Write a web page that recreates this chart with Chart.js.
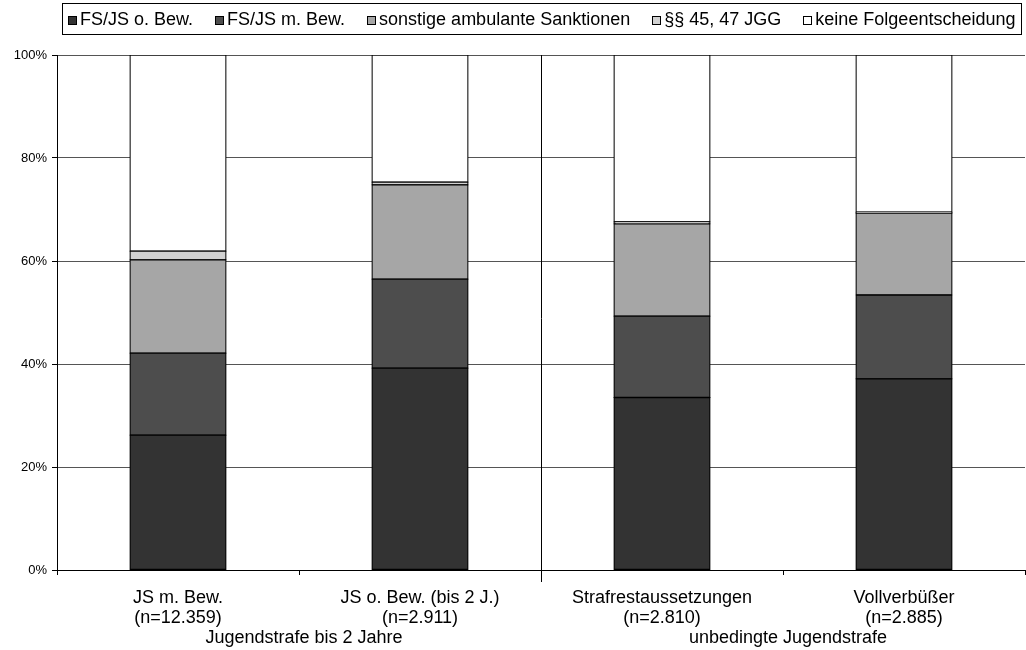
<!DOCTYPE html>
<html>
<head>
<meta charset="utf-8">
<script src="https://cdn.jsdelivr.net/npm/chart.js@4.4.1/dist/chart.umd.min.js"></script>
<style>
  html, body { margin: 0; padding: 0; background: #fff; }
  #wrap { width: 1026px; height: 650px; }
</style>
</head>
<body>
<div id="wrap"><canvas id="c" width="1026" height="650"></canvas></div>
<script>
// Categories (two-line axis labels) and their groups
const categories = [
  ['JS m. Bew.', '(n=12.359)'],
  ['JS o. Bew. (bis 2 J.)', '(n=2.911)'],
  ['Strafrestaussetzungen', '(n=2.810)'],
  ['Vollverbüßer', '(n=2.885)']
];
const groups = ['Jugendstrafe bis 2 Jahre', 'unbedingte Jugendstrafe'];

// Shares in percent per follow-up decision
const fsJsOhneBew   = [26.2, 39.2, 33.5, 37.1];
const fsJsMitBew    = [15.9, 17.3, 15.8, 16.3];
const sonstigeAmb   = [18.1, 18.3, 17.9, 15.9];
const jgg4547       = [1.7, 0.5, 0.4, 0.2];
const keineFolge    = [38.1, 24.7, 32.4, 30.5];

const yTicks = [0, 20, 40, 60, 80, 100];

const FONT = 'Liberation Sans, Arial, sans-serif';

const seriesNames  = ['FS/JS o. Bew.', 'FS/JS m. Bew.', 'sonstige ambulante Sanktionen', '§§ 45, 47 JGG', 'keine Folgeentscheidung'];
const seriesValues = [fsJsOhneBew, fsJsMitBew, sonstigeAmb, jgg4547, keineFolge];
const seriesColors = ['#333333', '#4d4d4d', '#a6a6a6', '#d2d2d2', '#ffffff'];

const datasets = seriesNames.map((name, i) => ({
  label: name,
  data: seriesValues[i],
  backgroundColor: seriesColors[i],
  borderColor: '#000000',
  borderWidth: 1.25,
  borderSkipped: false,
  inflateAmount: 0.6,
  barThickness: 96
}));

// Boxed legend row across the top
const boxedLegend = {
  id: 'boxedLegend',
  afterDraw(chart) {
    const ctx = chart.ctx;
    const fontSize = 18;
    const sq = 9, gapText = 3, gapItem = 22;
    ctx.save();
    ctx.font = fontSize + 'px ' + FONT;
    const widths = chart.data.datasets.map(d => ctx.measureText(d.label).width);
    let total = 0;
    widths.forEach((w, i) => { total += sq + gapText + w + (i < widths.length - 1 ? gapItem : 0); });
    const right = 1021, top = 3, bottom = 34;
    const padX = 6;
    const left = Math.round(right - padX * 2 - total);
    ctx.fillStyle = '#fff';
    ctx.fillRect(left, top, right - left, bottom - top);
    ctx.strokeStyle = '#000';
    ctx.lineWidth = 1;
    ctx.strokeRect(left + 0.5, top + 0.5, right - left, bottom - top);
    const cy = Math.round((top + bottom) / 2) + 1;
    let x = left + padX;
    chart.data.datasets.forEach((d, i) => {
      const bx = Math.round(x) + 0.5, by = Math.round(cy - sq / 2) + 0.5;
      ctx.fillStyle = d.backgroundColor;
      ctx.fillRect(bx, by, sq - 1, sq - 1);
      ctx.strokeStyle = '#000';
      ctx.strokeRect(bx, by, sq - 1, sq - 1);
      x += sq + gapText;
      ctx.fillStyle = '#000';
      ctx.textBaseline = 'middle';
      ctx.textAlign = 'left';
      ctx.fillText(d.label, x, cy);
      x += widths[i] + gapItem;
    });
    ctx.restore();
  }
};

// Vertical divider between the two category groups, reaching below the axis
const groupDivider = {
  id: 'groupDivider',
  afterDatasetsDraw(chart) {
    const xs = chart.scales.x;
    const area = chart.chartArea;
    const px = Math.round((xs.getPixelForValue(1) + xs.getPixelForValue(2)) / 2) + 0.5;
    const ctx = chart.ctx;
    ctx.save();
    ctx.strokeStyle = '#000';
    ctx.lineWidth = 1;
    ctx.beginPath();
    ctx.moveTo(px, area.top);
    ctx.lineTo(px, area.bottom + 12);
    ctx.stroke();
    ctx.restore();
  }
};

new Chart(document.getElementById('c'), {
  type: 'bar',
  data: { labels: categories, datasets },
  options: {
    responsive: false,
    animation: false,
    devicePixelRatio: 1,
    layout: { padding: { top: 55, right: 1, bottom: 2, left: 0 } },
    plugins: {
      legend: { display: false },
      tooltip: { enabled: false }
    },
    scales: {
      x: {
        stacked: true,
        offset: true,
        grid: {
          offset: true,
          drawOnChartArea: false,
          tickLength: 5,
          tickColor: '#000',
          color: '#000'
        },
        border: { color: '#000', width: 1 },
        ticks: {
          color: '#000',
          font: { family: FONT, size: 18, lineHeight: 20 / 18 },
          padding: 13,
          maxRotation: 0,
          autoSkip: false
        },
        afterFit: s => { s.height = 58; }
      },
      group: {
        type: 'category',
        labels: groups,
        position: 'bottom',
        offset: true,
        grid: { display: false, drawTicks: false },
        border: { display: false },
        ticks: {
          color: '#000',
          font: { family: FONT, size: 18, lineHeight: 20 / 18 },
          padding: 0,
          labelOffset: 5,
          maxRotation: 0,
          autoSkip: false
        },
        afterFit: s => { s.height = 20; }
      },
      y: {
        stacked: true,
        min: 0,
        max: 100,
        afterBuildTicks: s => { s.ticks = yTicks.map(v => ({ value: v })); },
        grid: {
          color: '#555',
          tickLength: 5,
          tickColor: '#000'
        },
        border: { color: '#000', width: 1 },
        ticks: {
          color: '#000',
          font: { family: FONT, size: 13 },
          padding: 5,
          callback: v => v + '%'
        },
        afterFit: s => { s.width = 57; }
      }
    }
  },
  plugins: [boxedLegend, groupDivider]
});
</script>
</body>
</html>
